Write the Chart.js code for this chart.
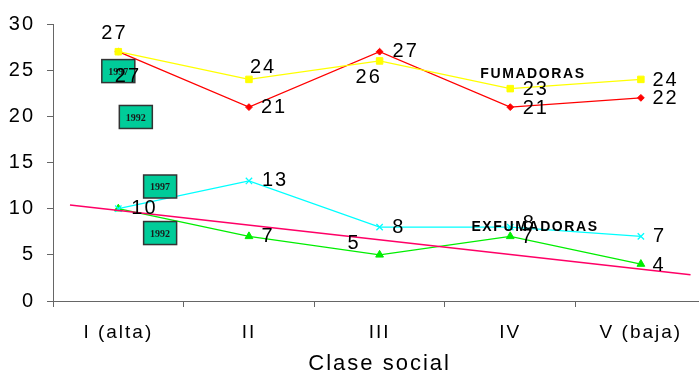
<!DOCTYPE html>
<html>
<head>
<meta charset="utf-8">
<script src="https://cdn.jsdelivr.net/npm/chart.js@4/dist/chart.umd.min.js"></script>
<style>
  html, body { margin: 0; padding: 0; background: #fff; overflow: hidden; }
  canvas { display: block; }
</style>
</head>
<body>
<canvas id="c" width="712" height="374" style="width:712px;height:374px"></canvas>
<script>
// Social class categories and percentages per group/year
const categories = ['I (alta)', 'II', 'III', 'IV', 'V (baja)'];
const fumadoras1997 = [27, 24, 26, 23, 24];
const fumadoras1992 = [27, 21, 27, 21, 22];
const exfumadoras1997 = [10, 13, 8, 8, 7];
const exfumadoras1992 = [10, 7, 5, 7, 4];
const yTicks = [0, 5, 10, 15, 20, 25, 30];

// Straight trend line (x in category units, y in %)
const trendX = [-0.37, 4.38];
const trendY = [10.4, 2.85];

// Value label placement relative to each point (px)
const labelOffsets = [
  [[-17, -18], [1, -12], [-24, 17], [12.5, 0.5], [11.5, 1]],
  [[-3.5, 25], [12, 0], [13, 0], [12.5, 1], [11.5, 1]],
  [[13, 0], [13, 0], [12.7, 0.7], [12.5, -4], [12, 0]],
  [null, [12.5, 0], [-32, -11.5], [11, 1.5], [11.5, 1.5]]
];

// Year tags and group captions, anchored in data units
const yearTags = [
  { text: '1997', x: 0.0, y: 24.9 },
  { text: '1992', x: 0.134, y: 19.93 },
  { text: '1997', x: 0.32, y: 12.4 },
  { text: '1992', x: 0.32, y: 7.36 }
];
const groupCaptions = [
  { text: 'FUMADORAS', x: 3.174, y: 24.6 },
  { text: 'EXFUMADORAS', x: 3.19, y: 8.0 }
];

const FONT = 'Arial, "Liberation Sans", sans-serif';

const spacingPlugin = {
  id: 'spacing',
  beforeUpdate(chart) { chart.ctx.letterSpacing = '2px'; },
  beforeDraw(chart) { chart.ctx.letterSpacing = '2px'; }
};

const annotationsPlugin = {
  id: 'annotations',
  afterDatasetsDraw(chart) {
    const ctx = chart.ctx;
    const xs = chart.scales.xt;
    const ys = chart.scales.y;
    ctx.save();
    // year tags
    yearTags.forEach(t => {
      const cx = xs.getPixelForValue(t.x);
      const cy = ys.getPixelForValue(t.y);
      const w = 33, h = 23;
      ctx.fillStyle = '#00CC99';
      ctx.fillRect(cx - w / 2, cy - h / 2, w, h);
      ctx.lineWidth = 1.5;
      ctx.strokeStyle = '#333333';
      ctx.strokeRect(cx - w / 2, cy - h / 2, w, h);
      ctx.letterSpacing = '0px';
      ctx.fillStyle = '#1a1a1a';
      ctx.font = 'bold 10px "Liberation Serif", "Times New Roman", serif';
      ctx.textAlign = 'center';
      ctx.textBaseline = 'middle';
      ctx.fillText(t.text, cx, cy + 1);
    });
    // value labels
    ctx.letterSpacing = '2px';
    ctx.font = '20px ' + FONT;
    ctx.fillStyle = '#000';
    ctx.textAlign = 'left';
    ctx.textBaseline = 'middle';
    const series = [fumadoras1997, fumadoras1992, exfumadoras1997, exfumadoras1992];
    series.forEach((vals, si) => {
      const meta = chart.getDatasetMeta(si + 1);
      vals.forEach((v, i) => {
        const off = labelOffsets[si][i];
        if (!off) return;
        const p = meta.data[i];
        ctx.fillText(String(v), p.x + off[0], p.y + off[1]);
      });
    });
    // group captions
    ctx.letterSpacing = '1.6px';
    ctx.font = 'bold 14px ' + FONT;
    ctx.textAlign = 'center';
    groupCaptions.forEach(g => {
      ctx.fillText(g.text, xs.getPixelForValue(g.x), ys.getPixelForValue(g.y));
    });
    ctx.restore();
  }
};

const ctx = document.getElementById('c').getContext('2d');
new Chart(ctx, {
  type: 'line',
  data: {
    labels: categories,
    datasets: [
      {
        label: 'Tendencia',
        data: trendX.map((x, i) => ({ x: x, y: trendY[i] })),
        xAxisID: 'xt',
        borderColor: '#FF0066',
        borderWidth: 1.6,
        pointRadius: 0,
        order: 0
      },
      {
        label: 'Fumadoras 1997',
        data: fumadoras1997,
        borderColor: '#FFFF00',
        backgroundColor: '#FFFF00',
        pointStyle: 'rect',
        pointRadius: 4.6,
        pointBorderWidth: 1,
        borderWidth: 1.3,
        order: 1
      },
      {
        label: 'Fumadoras 1992',
        data: fumadoras1992,
        borderColor: '#FF0000',
        backgroundColor: '#FF0000',
        pointStyle: 'rectRot',
        pointRadius: 3.4,
        pointBorderWidth: 1,
        borderWidth: 1.3,
        order: 2
      },
      {
        label: 'Exfumadoras 1997',
        data: exfumadoras1997,
        borderColor: '#00FFFF',
        backgroundColor: '#00FFFF',
        pointStyle: 'crossRot',
        pointRadius: 4.5,
        pointBorderWidth: 1.3,
        borderWidth: 1.3,
        order: 1
      },
      {
        label: 'Exfumadoras 1992',
        data: exfumadoras1992,
        borderColor: '#00EE00',
        backgroundColor: '#00EE00',
        pointStyle: 'triangle',
        pointRadius: 4.5,
        pointBorderWidth: 1,
        borderWidth: 1.3,
        order: 2
      }
    ]
  },
  options: {
    responsive: false,
    animation: false,
    layout: { padding: { top: 24, right: 5, left: 0, bottom: 0 } },
    plugins: { legend: { display: false }, tooltip: { enabled: false } },
    scales: {
      x: {
        type: 'category',
        offset: true,
        grid: { offset: true, drawOnChartArea: false, drawTicks: true, tickLength: 6, color: '#666' },
        border: { color: '#666', width: 1 },
        ticks: { font: { family: FONT, size: 19 }, color: '#000', padding: 14, maxRotation: 0, autoSkip: false },
        title: { display: true, text: 'Clase social', color: '#000', font: { family: FONT, size: 22 }, padding: { top: 0, bottom: -3 } },
        afterFit(s) { s.height = 73; }
      },
      xt: { type: 'linear', display: false, min: -0.5, max: 4.5 },
      y: {
        min: 0,
        max: 30,
        afterBuildTicks(s) { s.ticks = yTicks.map(v => ({ value: v })); },
        grid: { drawOnChartArea: false, drawTicks: true, tickLength: 6, color: '#666' },
        border: { color: '#666', width: 1 },
        ticks: { font: { family: FONT, size: 20 }, color: '#000', padding: 12 },
        afterFit(s) { s.width = 53; }
      }
    }
  },
  plugins: [spacingPlugin, annotationsPlugin]
});
</script>
</body>
</html>
